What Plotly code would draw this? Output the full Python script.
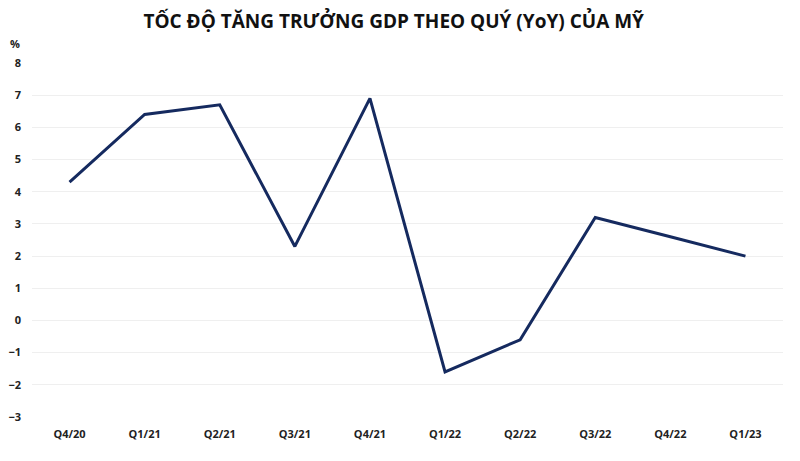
import plotly.graph_objects as go

quarters = ["Q4/20", "Q1/21", "Q2/21", "Q3/21", "Q4/21", "Q1/22", "Q2/22", "Q3/22", "Q4/22", "Q1/23"]
gdp_yoy = [4.3, 6.4, 6.7, 2.3, 6.9, -1.6, -0.6, 3.2, 2.6, 2.0]
y_ticks = list(range(-3, 9))

fig = go.Figure()
fig.add_trace(go.Scatter(
    x=quarters, y=gdp_yoy, mode="lines",
    line=dict(color="#152a5f", width=3),
    hoverinfo="x+y",
))

font_family = "Open Sans, Noto Sans, sans-serif"
# page body has an 8px default margin, so the figure is offset by 8px
fig.update_layout(
    width=792, height=453,
    margin=dict(l=24, r=17, t=55, b=44, autoexpand=False),
    paper_bgcolor="white", plot_bgcolor="white",
    showlegend=False,
    title=dict(text="<b>TỐC ĐỘ TĂNG TRƯỞNG GDP THEO QUÝ (YoY) CỦA MỸ</b>",
               x=0.487, xanchor="center", y=0.970, yanchor="middle",
               font=dict(family=font_family, size=19, color="#111111")),
    font=dict(family=font_family, size=11, color="#222222"),
)
fig.update_xaxes(
    type="category", range=[-0.5, 9.5], automargin=False,
    showgrid=False, zeroline=False, showline=False,
    ticks="", ticklabelstandoff=9,
    tickfont=dict(family=font_family, size=11, color="#222222", weight="bold"),
)
fig.update_yaxes(
    range=[-3, 8], tickvals=y_ticks, automargin=False,
    showgrid=True, gridcolor="#efefef", gridwidth=1,
    zeroline=False, showline=False, ticks="",
    ticklabelstandoff=10,
    tickfont=dict(family=font_family, size=11, color="#222222", weight="bold"),
)
fig.add_annotation(text="<b>%</b>", xref="paper", yref="paper", x=-0.0226, y=1.054,
                   xanchor="center", yanchor="middle", showarrow=False,
                   font=dict(family=font_family, size=11, color="#222222"))

fig.write_html("out.html")
